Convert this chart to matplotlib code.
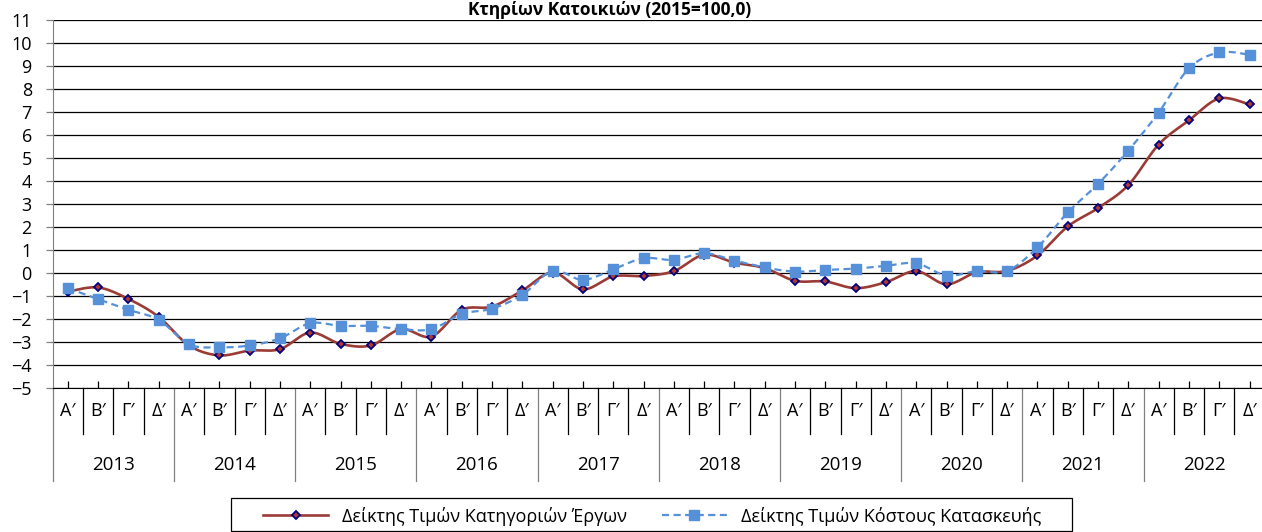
import numpy as np
import matplotlib
matplotlib.use('Agg')
import matplotlib.pyplot as plt
from matplotlib.lines import Line2D
from matplotlib.patches import Rectangle
from matplotlib.transforms import blended_transform_factory

# Data (quarterly, 2013 A' .. 2022 D')
years = ['2013', '2014', '2015', '2016', '2017', '2018', '2019', '2020', '2021', '2022']
quarters = ['Α′', 'Β′', 'Γ′', 'Δ′']

works = [-0.80, -0.62, -1.12, -1.90,
         -3.14, -3.57, -3.36, -3.30,
         -2.58, -3.07, -3.14, -2.43,
         -2.75, -1.59, -1.45, -0.75,
         0.03, -0.70, -0.14, -0.12,
         0.09, 0.80, 0.46, 0.22,
         -0.33, -0.36, -0.65, -0.39,
         0.09, -0.48, 0.04, 0.10,
         0.77, 2.03, 2.83, 3.83,
         5.59, 6.64, 7.59, 7.33]

cost = [-0.65, -1.13, -1.59, -2.03,
        -3.09, -3.22, -3.14, -2.83,
        -2.17, -2.29, -2.29, -2.43,
        -2.43, -1.77, -1.54, -0.94,
        0.10, -0.29, 0.17, 0.65,
        0.58, 0.87, 0.55, 0.25,
        0.07, 0.14, 0.20, 0.32,
        0.43, -0.10, 0.09, 0.10,
        1.12, 2.64, 3.88, 5.33,
        6.98, 8.90, 9.59, 9.49]

label_works = 'Δείκτης Τιμών Κατηγοριών Έργων'
label_cost = 'Δείκτης Τιμών Κόστους Κατασκευής'
title = 'Κτηρίων Κατοικιών (2015=100,0)'

red = '#9B3B36'
navy = '#000080'
blue = '#5590D9'

plt.rcParams['font.family'] = ['Open Sans', 'DejaVu Sans']


def smooth(xs, ys, n=16):
    # Catmull-Rom curve through the points, like Excel's smoothed line
    xs = np.asarray(xs, float)
    ys = np.asarray(ys, float)
    px = np.concatenate([[xs[0]], xs, [xs[-1]]])
    py = np.concatenate([[ys[0]], ys, [ys[-1]]])
    t = np.linspace(0, 1, n, endpoint=False)
    outx, outy = [], []
    for i in range(1, len(px) - 2):
        for p, out in ((px, outx), (py, outy)):
            p0, p1, p2, p3 = p[i - 1], p[i], p[i + 1], p[i + 2]
            out.extend(0.5 * (2 * p1 + (-p0 + p2) * t
                              + (2 * p0 - 5 * p1 + 4 * p2 - p3) * t ** 2
                              + (-p0 + 3 * p1 - 3 * p2 + p3) * t ** 3))
    outx.append(xs[-1])
    outy.append(ys[-1])
    return np.array(outx), np.array(outy)


W, H = 1262, 532
fig = plt.figure(figsize=(W / 100, H / 100), dpi=100)
ax = fig.add_axes([52.7 / W, 143.7 / H, 1212 / W, 368.3 / H])

x = np.arange(len(works)) + 0.5
dash = (0, (3.2, 2.0))

sx, sy = smooth(x, works)
ax.plot(sx, sy, color=red, lw=1.9, zorder=3)
ax.plot(x, works, ls='none', marker='D', ms=4.4, mfc='#B0392E', mec=navy,
        mew=1.3, zorder=4)

sx, sy = smooth(x, cost)
ax.plot(sx, sy, color=blue, lw=1.6, ls=dash, zorder=3)
ax.plot(x, cost, ls='none', marker='s', ms=7, mfc=blue, mec=blue, zorder=4)

ax.set_xlim(0, 40)
ax.set_ylim(-5, 11)
ax.set_yticks(range(-5, 12))
ax.grid(axis='y', color='black', lw=0.9)
ax.set_axisbelow(True)
ax.tick_params(axis='y', length=5, width=0.9, color='#808080', pad=10,
               labelsize=13)
ax.set_xticks(x)
ax.tick_params(axis='x', direction='in', length=5, width=0.9,
               color='black', labelbottom=False)

for s in ('top', 'right'):
    ax.spines[s].set_visible(False)
ax.spines['left'].set_color('#808080')
ax.spines['bottom'].set_color('black')

# multi-level category axis
tr = blended_transform_factory(ax.transData, ax.transAxes)
for i in range(41):
    long_line = i % 4 == 0
    ax.plot([i, i], [0, -0.253 if long_line else -0.125], transform=tr,
            color='#808080' if long_line else 'black', lw=0.9,
            clip_on=False)
for i in range(40):
    ax.text(i + 0.5, -0.062, quarters[i % 4], transform=tr, ha='center',
            va='center', fontsize=13)
for k, yr in enumerate(years):
    ax.text(4 * k + 2, -0.209, yr, transform=tr, ha='center', va='center',
            fontsize=13.5)

# title sits tight against the top edge
fig.text(610 / W, 1 - 15 / H, title, ha='center', va='baseline',
         fontsize=12.5, fontweight='bold')

# legend box
fig.patches.append(Rectangle((231 / W, 1 - 531 / H), (1072 - 231) / W,
                             (531 - 498) / H, transform=fig.transFigure,
                             fill=False, edgecolor='black', lw=0.9))
handles = [
    Line2D([], [], color=red, lw=1.9, marker='D', ms=4.4, mfc='#B0392E',
           mec=navy, mew=1.3),
    Line2D([], [], color=blue, lw=1.6, ls=dash, marker='s', ms=7,
           mfc=blue, mec=blue),
]
fig.legend(handles, [label_works, label_cost], ncol=2,
           loc='center left', bbox_to_anchor=(263 / W, 1 - 516 / H),
           fontsize=13, frameon=False, handlelength=3.6,
           handletextpad=0.8, columnspacing=1.9, borderpad=0,
           borderaxespad=0)

fig.savefig('out.png', dpi=100)
